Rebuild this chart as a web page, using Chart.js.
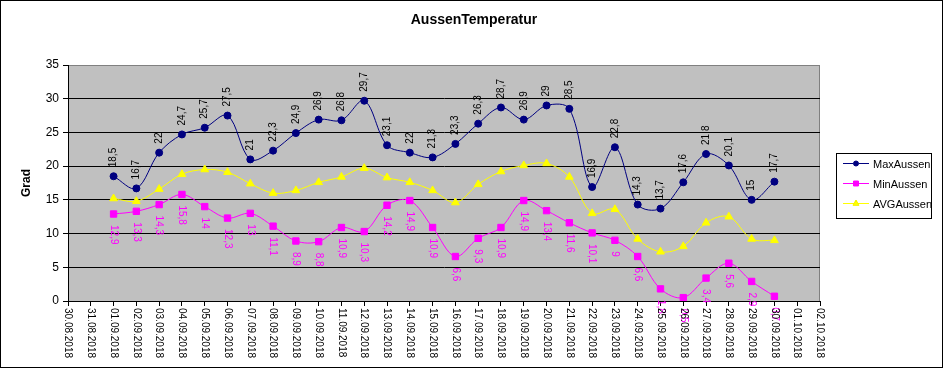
<!DOCTYPE html>
<html>
<head>
<meta charset="utf-8">
<title>AussenTemperatur</title>
<script src="https://cdn.jsdelivr.net/npm/chart.js@4/dist/chart.umd.min.js"></script>
<style>
  html, body { margin: 0; padding: 0; background: #fff; }
  #wrap { width: 943px; height: 368px; }
</style>
</head>
<body>
<div id="wrap"><canvas id="tempChart" width="943" height="368"></canvas></div>
<script>
// x axis: one tick per day, data only from 01.09 to 30.09
const dateLabels = [
    '30.08.2018', '31.08.2018',
    '01.09.2018', '02.09.2018', '03.09.2018', '04.09.2018', '05.09.2018',
    '06.09.2018', '07.09.2018', '08.09.2018', '09.09.2018', '10.09.2018',
    '11.09.2018', '12.09.2018', '13.09.2018', '14.09.2018', '15.09.2018',
    '16.09.2018', '17.09.2018', '18.09.2018', '19.09.2018', '20.09.2018',
    '21.09.2018', '22.09.2018', '23.09.2018', '24.09.2018', '25.09.2018',
    '26.09.2018', '27.09.2018', '28.09.2018', '29.09.2018', '30.09.2018',
    '01.10.2018', '02.10.2018'
];

const maxAussen = [18.5, 16.7, 22, 24.7, 25.7, 27.5, 21, 22.3, 24.9, 26.9,
    26.8, 29.7, 23.1, 22, 21.3, 23.3, 26.3, 28.7, 26.9, 29,
    28.5, 16.9, 22.8, 14.3, 13.7, 17.6, 21.8, 20.1, 15, 17.7];

const minAussen = [12.9, 13.3, 14.3, 15.8, 14, 12.3, 13, 11.1, 8.9, 8.8,
    10.9, 10.3, 14.2, 14.9, 10.9, 6.6, 9.3, 10.9, 14.9, 13.4,
    11.6, 10.1, 9, 6.6, 1.8, 0.5, 3.4, 5.6, 2.9, 0.7];

const avgAussen = [15.2, 14.8, 16.6, 18.8, 19.5, 19.1, 17.4, 16.0, 16.4, 17.6,
    18.4, 19.7, 18.3, 17.6, 16.4, 14.6, 17.3, 19.2, 20.1, 20.4,
    18.4, 13.0, 13.6, 9.2, 7.3, 8.1, 11.6, 12.5, 9.2, 9.0];

const yTicks = [0, 5, 10, 15, 20, 25, 30, 35];

const chartTitle = 'AussenTemperatur';

const FONT = "'Liberation Sans', Arial, sans-serif";
const NAVY = '#000080';
const MAGENTA = '#FF00FF';
const YELLOW = '#FFFF00';

// two empty days before and after the data
const pad = (vals) => [null, null, ...vals, null, null];

const fmt = (v) => String(v).replace('.', ',');

const frame = {
    id: 'frame',
    beforeDraw(chart) {
        const { ctx, chartArea: a } = chart;
        ctx.save();
        ctx.fillStyle = '#fff';
        ctx.fillRect(0, 0, chart.width, chart.height);
        ctx.fillStyle = '#C0C0C0';
        ctx.fillRect(a.left, a.top, a.right - a.left, a.bottom - a.top);
        ctx.strokeStyle = '#808080';
        ctx.lineWidth = 1;
        ctx.strokeRect(a.left + 0.5, a.top + 0.5, a.right - a.left - 1, a.bottom - a.top);
        ctx.restore();
    },
    afterDraw(chart) {
        const ctx = chart.ctx;
        ctx.save();
        // title is centred on the whole chart, not on the plot area
        ctx.font = 'bold 14px ' + FONT;
        ctx.fillStyle = '#000';
        ctx.textAlign = 'center';
        ctx.textBaseline = 'middle';
        ctx.fillText(chartTitle, 474, 20);

        ctx.strokeStyle = '#000';
        ctx.lineWidth = 1;
        ctx.strokeRect(0.5, 0.5, chart.width - 1, chart.height - 1);
        ctx.restore();
    }
};

// rotated date labels, reading top to bottom like the original
const dateTicks = {
    id: 'dateTicks',
    afterDraw(chart) {
        const { ctx, scales: { x } } = chart;
        ctx.save();
        ctx.font = '10px ' + FONT;
        ctx.fillStyle = '#000';
        ctx.textAlign = 'left';
        ctx.textBaseline = 'middle';
        dateLabels.forEach((lbl, i) => {
            const px = x.getPixelForValue(i);
            ctx.save();
            ctx.translate(px, x.top + 7);
            ctx.rotate(Math.PI / 2);
            ctx.fillText(lbl, 0, 0);
            ctx.restore();
        });
        ctx.restore();
    }
};

// value labels: max above the points, min below
const valueLabels = {
    id: 'valueLabels',
    afterDatasetsDraw(chart) {
        const ctx = chart.ctx;
        ctx.save();
        ctx.font = '10px ' + FONT;
        ctx.textBaseline = 'middle';
        ctx.textAlign = 'left';

        const maxMeta = chart.getDatasetMeta(0);
        ctx.fillStyle = '#000';
        maxMeta.data.forEach((pt, i) => {
            const v = chart.data.datasets[0].data[i];
            if (v === null) return;
            ctx.save();
            ctx.translate(pt.x, pt.y - 9);
            ctx.rotate(-Math.PI / 2);
            ctx.fillText(fmt(v), 0, 0);
            ctx.restore();
        });

        const minMeta = chart.getDatasetMeta(1);
        ctx.fillStyle = MAGENTA;
        minMeta.data.forEach((pt, i) => {
            const v = chart.data.datasets[1].data[i];
            if (v === null) return;
            ctx.save();
            ctx.translate(pt.x, pt.y + 11);
            ctx.rotate(Math.PI / 2);
            ctx.fillText(fmt(v), 0, 0);
            ctx.restore();
        });
        ctx.restore();
    }
};

// Excel style legend box on the right
const boxLegend = {
    id: 'boxLegend',
    afterDraw(chart) {
        const ctx = chart.ctx;
        const left = 836, top = 153, w = 96, h = 66;
        ctx.save();
        ctx.fillStyle = '#fff';
        ctx.fillRect(left, top, w, h);
        ctx.strokeStyle = '#000';
        ctx.lineWidth = 1;
        ctx.strokeRect(left + 0.5, top + 0.5, w - 1, h - 1);

        ctx.font = '11px ' + FONT;
        ctx.textBaseline = 'middle';
        ctx.textAlign = 'left';
        chart.data.datasets.forEach((ds, i) => {
            const y = top + 10.5 + i * 20;
            ctx.strokeStyle = ds.borderColor;
            ctx.beginPath();
            ctx.moveTo(left + 7, y);
            ctx.lineTo(left + 33, y);
            ctx.stroke();
            Chart.helpers.drawPoint(ctx, {
                pointStyle: ds.pointStyle,
                radius: ds.pointStyle === 'circle' ? 2.5 : 3.5,
                rotation: 0,
                borderWidth: 1
            }, left + 20, y);
            ctx.fillStyle = ds.borderColor;
            ctx.fill();
            ctx.fillStyle = '#000';
            ctx.fillText(ds.label, left + 37, y + 1);
        });
        ctx.restore();
    }
};

new Chart(document.getElementById('tempChart'), {
    type: 'line',
    data: {
        labels: dateLabels,
        datasets: [
            {
                label: 'MaxAussen',
                data: pad(maxAussen),
                borderColor: NAVY,
                backgroundColor: NAVY,
                borderWidth: 1,
                tension: 0.35,
                pointStyle: 'circle',
                pointRadius: 3.5,
                pointBorderWidth: 1
            },
            {
                label: 'MinAussen',
                data: pad(minAussen),
                borderColor: MAGENTA,
                backgroundColor: MAGENTA,
                borderWidth: 1,
                tension: 0.35,
                pointStyle: 'rect',
                pointRadius: 4.5,
                pointBorderWidth: 1
            },
            {
                label: 'AVGAussen',
                data: pad(avgAussen),
                borderColor: YELLOW,
                backgroundColor: YELLOW,
                borderWidth: 1,
                tension: 0.35,
                pointStyle: 'triangle',
                pointRadius: 4.5,
                pointBorderWidth: 1
            }
        ]
    },
    options: {
        responsive: false,
        devicePixelRatio: 1,
        animation: false,
        layout: { padding: { left: 0, right: 123, top: 65, bottom: 0 } },
        plugins: {
            legend: { display: false },
            tooltip: { enabled: false },
            title: { display: false }
        },
        scales: {
            x: {
                type: 'category',
                offset: false,
                grid: {
                    display: true,
                    drawOnChartArea: false,
                    drawTicks: true,
                    tickLength: 5,
                    color: '#000'
                },
                border: { color: '#000', width: 1 },
                ticks: { display: false, autoSkip: false },
                afterFit: (s) => { s.height = 67; }
            },
            y: {
                min: 0,
                max: 35,
                afterBuildTicks: (s) => { s.ticks = yTicks.map(v => ({ value: v })); },
                ticks: {
                    color: '#000',
                    font: { family: FONT, size: 12 },
                    padding: 4
                },
                grid: {
                    color: (c) => (c.tick && c.tick.value === 35 ? '#808080' : '#000'),
                    tickColor: '#000',
                    tickLength: 5
                },
                border: { color: '#000', width: 1 },
                title: {
                    display: true,
                    text: 'Grad',
                    color: '#000',
                    font: { family: FONT, size: 12, weight: 'bold' },
                    padding: { top: 19, bottom: 0 }
                },
                afterFit: (s) => { s.width = 68; }
            }
        }
    },
    plugins: [frame, valueLabels, dateTicks, boxLegend]
});
</script>
</body>
</html>
